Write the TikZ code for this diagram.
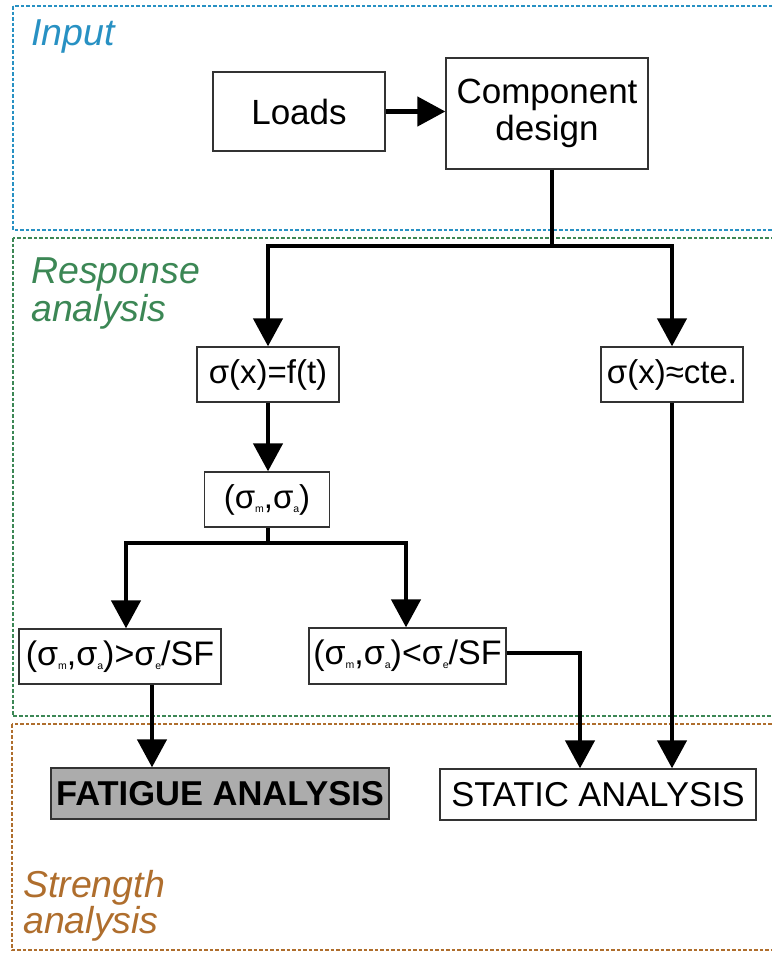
\documentclass[tikz,border=0pt]{standalone}
\usepackage{fontspec}
\setmainfont{Liberation Sans}
\usetikzlibrary{arrows.meta,calc}
\definecolor{inblue}{RGB}{40,145,195}
\definecolor{resgreen}{RGB}{60,135,85}
\definecolor{strbrown}{RGB}{175,110,45}
\newcommand{\sbs}[1]{\raisebox{-0.12em}{\fontsize{10.5}{10.5}\selectfont #1}}
\tikzset{
  box/.style={draw=black!80, line width=1.3pt, inner sep=0pt, font=\fontsize{33}{36}\selectfont, align=center},
  conn/.style={line width=4.5pt, -{Triangle[width=29pt,length=28pt]}},
  plain/.style={line width=4.5pt},
  zone/.style={line width=1.3pt, dash pattern=on 3.5pt off 2pt},
  zlabel/.style={inner sep=0pt, anchor=base west, font=\fontsize{37.5}{40}\selectfont\itshape}
}
\begin{document}
\begin{tikzpicture}[x=1pt,y=-1pt]
\useasboundingbox (0,0) rectangle (771,953);
% zones
\draw[zone, inblue] (13,6) rectangle (790,230);
\draw[zone, resgreen] (13,238) rectangle (790,716);
\draw[zone, strbrown] (12,724) rectangle (790,950);
\node[zlabel, text=inblue] (lin) at (31,45) {Input};
\node[zlabel, text=resgreen] (lres1) at (31,283) {Response};
\node[zlabel, text=resgreen] (lres2) at (31,321) {analysis};
\node[zlabel, text=strbrown] (lstr1) at (23,897) {Strength};
\node[zlabel, text=strbrown] (lstr2) at (23,933) {analysis};
% nodes
\node[box, minimum width=172pt, minimum height=79pt, font=\fontsize{35}{38}\selectfont] (loads) at (299,111.5) {Loads};
\node[box, minimum width=202pt, minimum height=111pt, font=\fontsize{35}{37}\selectfont] (comp) at (547,113.5) {Component\\design};
\node[box, minimum width=142pt, minimum height=55pt] (sig) at (268,374.5) {σ(x)=f(t)};
\node[box, minimum width=142pt, minimum height=55pt] (cte) at (672,374.5) {σ(x)≈cte.};
\node[box, minimum width=125pt, minimum height=55pt] (pair) at (267,499.5) {(σ\sbs{m},σ\sbs{a})};
\node[box, minimum width=202pt, minimum height=55pt, font=\fontsize{34}{36}\selectfont] (gt) at (120,656.5) {(σ\sbs{m},σ\sbs{a})>σ\sbs{e}/SF};
\node[box, minimum width=197pt, minimum height=56pt, font=\fontsize{34}{36}\selectfont] (lt) at (407.5,656) {(σ\sbs{m},σ\sbs{a})<σ\sbs{e}/SF};
\node[box, fill=gray!65, minimum width=338pt, minimum height=51pt, font=\fontsize{34.5}{36}\selectfont\bfseries] (fat) at (220,793.5) {FATIGUE ANALYSIS};
\node[box, minimum width=316pt, minimum height=51pt, font=\fontsize{34.5}{36}\selectfont] (stat) at (598,794.5) {STATIC ANALYSIS};
% connectors
\coordinate (j1) at (552,246);
\coordinate (j2) at (268,543);
\draw[conn] (loads.east) -- (loads.east -| comp.west);
\draw[plain] ([xshift=5pt]comp.south) -- (j1);
\draw[conn] (j1) -| (sig.north);
\draw[conn] (j1) -| (cte.north);
\draw[conn] (sig.south) -- (sig.south |- pair.north);
\draw[plain] (pair.south -| j2) -- (j2);
\draw[conn] (j2) -| ([xshift=6pt]gt.north);
\draw[conn] (j2) -| ([xshift=-1.5pt]lt.north);
\draw[conn] ([xshift=32pt]gt.south) -- ([xshift=32pt]gt.south |- fat.north);
\draw[conn] ([yshift=3pt]lt.east) -| ([xshift=-18pt]stat.north);
\draw[conn] (cte.south) -- (cte.south |- stat.north);
\end{tikzpicture}
\end{document}
